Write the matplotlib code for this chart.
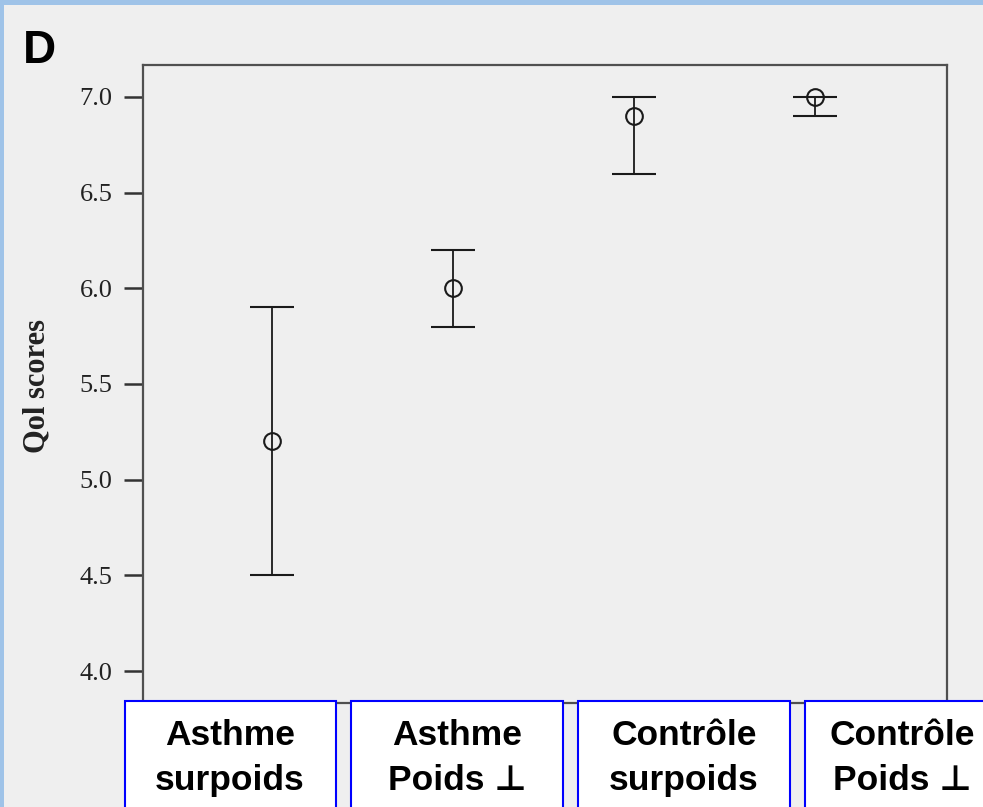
import matplotlib
matplotlib.use('agg')
import matplotlib.pyplot as plt
from matplotlib.patches import Rectangle

# data
groups = ['Asthme\nsurpoids', 'Asthme\nPoids \u22a5', 'Contr\u00f4le\nsurpoids', 'Contr\u00f4le\nPoids \u22a5']
means = [5.2, 6.0, 6.9, 7.0]
lower = [4.5, 5.8, 6.6, 6.9]
upper = [5.9, 6.2, 7.0, 7.0]
yticks = [4.0, 4.5, 5.0, 5.5, 6.0, 6.5, 7.0]

W, H = 983, 807
fig = plt.figure(figsize=(W / 100, H / 100), dpi=100)
fig.patch.set_facecolor('#efefef')

# light blue frame of the screenshot (top and left)
fig.add_artist(Rectangle((0, 1 - 5 / H), 1, 5 / H, transform=fig.transFigure,
                         facecolor='#9fc3e8', edgecolor='none'))
fig.add_artist(Rectangle((0, 0), 4 / W, 1, transform=fig.transFigure,
                         facecolor='#9fc3e8', edgecolor='none'))

ax = fig.add_axes([143 / W, 1 - 703 / H, (946.5 - 143) / W, (703 - 65) / H])
ax.set_facecolor('#efefef')

x = list(range(len(groups)))
yerr = [[m - lo for m, lo in zip(means, lower)], [up - m for m, up in zip(means, upper)]]
ax.errorbar(x, means, yerr=yerr, fmt='o', color='#1a1a1a', ecolor='#1a1a1a',
            elinewidth=1.3, capsize=16, capthick=1.8, markersize=12,
            markerfacecolor='none', markeredgewidth=1.5)

ax.set_xlim(-0.711, 3.726)
ax.set_ylim(3.833, 7.167)
ax.set_yticks(yticks)
ax.set_yticklabels(['%.1f' % t for t in yticks], family='Liberation Serif', fontsize=19,
                   color='#222222')
ax.tick_params(axis='y', length=14, width=1.8, pad=8, color='#333333')
ax.set_xticks([])
for s in ax.spines.values():
    s.set_color('#505050')
    s.set_linewidth(1.6)

fig.text(37 / W, 1 - 386 / H, 'Qol scores', rotation=90, ha='center', va='center',
         family='Liberation Serif', fontweight='bold', fontsize=22, color='#222222')

fig.text(22.7 / W, 1 - 62.7 / H, 'D', ha='left', va='baseline',
         family='Liberation Sans', fontweight='bold', fontsize=33)

# label boxes covering the bottom of the chart
box_left = [124.7, 351, 578, 805]
box_width = 211.5
text_cx = [230, 457, 684, 902]
for lab, bl, cx in zip(groups, box_left, text_cx):
    fig.add_artist(Rectangle((bl / W, -0.01), box_width / W, (H - 700.7) / H + 0.01,
                             transform=fig.transFigure, facecolor='white',
                             edgecolor='#0000ff', linewidth=1.5))
    for line, base in zip(lab.split('\n'), [745, 790]):
        fig.text(cx / W, 1 - base / H, line, ha='center', va='baseline',
                 family=['Liberation Sans', 'DejaVu Sans'], fontweight='bold',
                 fontsize=25.5, color='black')

plt.savefig('out.png', dpi=100, facecolor=fig.get_facecolor())
